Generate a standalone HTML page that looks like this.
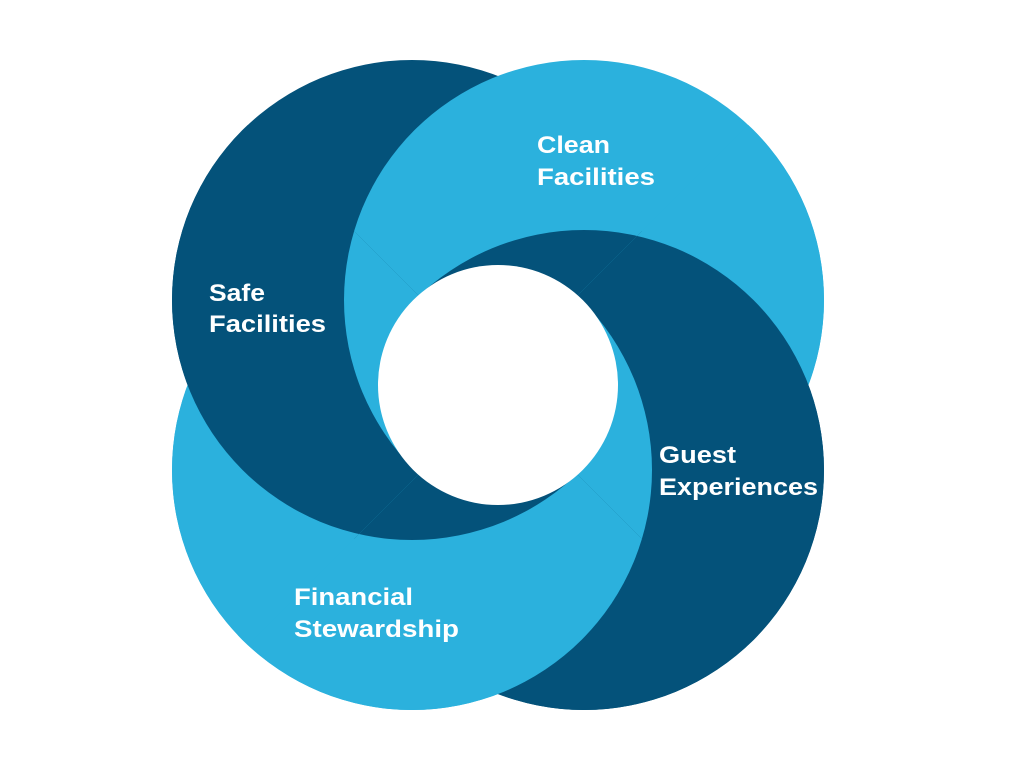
<!DOCTYPE html>
<html><head><meta charset="utf-8"><style>
html,body{margin:0;padding:0;background:#fff;}
svg{display:block}
text{font-family:"Liberation Sans",sans-serif;font-weight:bold;font-size:24px;fill:#fff}
</style></head><body>
<svg width="1024" height="768" viewBox="0 0 1024 768">
<defs>
<clipPath id="qR"><polygon points="488,385 1498,-625 1498,1395"/></clipPath>
<clipPath id="qB"><polygon points="498,375 1508,1385 -512,1385"/></clipPath>
<clipPath id="qL"><polygon points="508,385 -502,1395 -502,-625"/></clipPath>
<circle id="DTL" cx="412" cy="300" r="240" fill="#04527A"/>
<circle id="LTR" cx="584" cy="300" r="240" fill="#2BB1DD"/>
<circle id="DBR" cx="584" cy="470" r="240" fill="#04527A"/>
<circle id="LBL" cx="412" cy="470" r="240" fill="#2BB1DD"/>
</defs>
<g><use href="#LBL"/><use href="#DTL"/><use href="#LTR"/><use href="#DBR"/></g>
<g clip-path="url(#qB)"><use href="#LTR"/><use href="#DBR"/><use href="#LBL"/><use href="#DTL"/></g>
<g clip-path="url(#qR)"><use href="#DTL"/><use href="#LTR"/><use href="#DBR"/><use href="#LBL"/></g>
<g clip-path="url(#qL)"><use href="#DBR"/><use href="#LBL"/><use href="#DTL"/><use href="#LTR"/></g>
<circle cx="498" cy="385" r="120" fill="#fff"/>
<text x="537" y="153" textLength="73" lengthAdjust="spacingAndGlyphs">Clean</text>
<text x="537" y="185" textLength="118" lengthAdjust="spacingAndGlyphs">Facilities</text>
<text x="209" y="301" textLength="56" lengthAdjust="spacingAndGlyphs">Safe</text>
<text x="209" y="332" textLength="117" lengthAdjust="spacingAndGlyphs">Facilities</text>
<text x="659" y="463" textLength="77" lengthAdjust="spacingAndGlyphs">Guest</text>
<text x="659" y="495" textLength="159" lengthAdjust="spacingAndGlyphs">Experiences</text>
<text x="294" y="605" textLength="119" lengthAdjust="spacingAndGlyphs">Financial</text>
<text x="294" y="637" textLength="165" lengthAdjust="spacingAndGlyphs">Stewardship</text>
</svg>
</body></html>
